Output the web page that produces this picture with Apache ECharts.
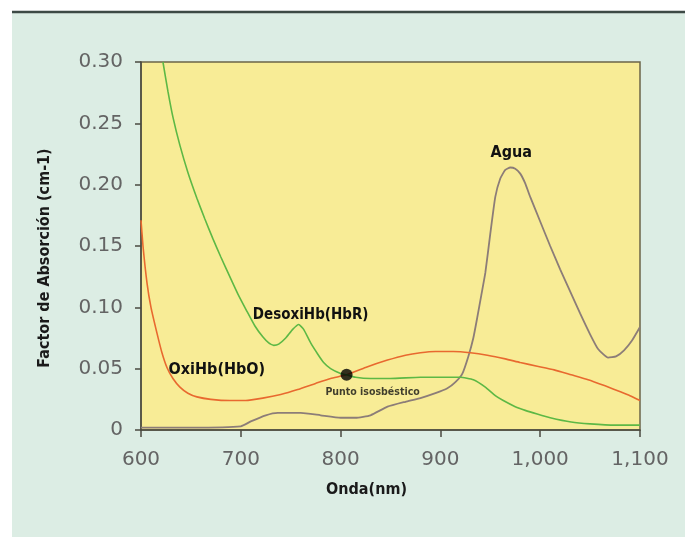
<!DOCTYPE html>
<html>
<head>
<meta charset="utf-8">
<script src="https://cdn.jsdelivr.net/npm/echarts@6/dist/echarts.min.js"></script>
<style>html,body{margin:0;padding:0;background:#fff;}#c{width:685px;height:537px;}</style>
</head>
<body>
<div id="c"></div>
<script>
// Wavelength (nm), absorption coefficient (cm-1)
const oxiHb = [[600,0.171],[602,0.15],[606,0.12],[610,0.1],[616,0.079],[621,0.063],[626,0.051],[632,0.042],[639,0.035],[647,0.030],[656,0.027],[670,0.025],[689,0.024],[705,0.024],[722,0.026],[740,0.029],[757,0.033],[775,0.038],[790,0.042],[806,0.045],[825,0.051],[847,0.057],[865,0.061],[880,0.063],[895,0.064],[913,0.064],[930,0.063],[947,0.061],[965,0.058],[980,0.055],[997,0.052],[1014,0.049],[1031,0.045],[1048,0.041],[1065,0.036],[1081,0.031],[1090,0.028],[1100,0.024]];
const desoxiHb = [[622,0.30],[627,0.276],[632,0.255],[639,0.232],[647,0.210],[656,0.189],[664,0.172],[672,0.156],[680,0.141],[689,0.125],[697,0.111],[706,0.097],[714,0.085],[722,0.076],[728,0.071],[733,0.069],[738,0.07],[745,0.075],[752,0.082],[758,0.086],[763,0.082],[770,0.071],[777,0.062],[783,0.055],[790,0.050],[800,0.046],[806,0.045],[815,0.043],[830,0.042],[850,0.042],[880,0.043],[900,0.043],[920,0.043],[933,0.041],[945,0.035],[955,0.028],[963,0.024],[975,0.019],[985,0.016],[997,0.013],[1010,0.010],[1031,0.0065],[1050,0.005],[1075,0.004],[1100,0.004]];
const agua = [[600,0.002],[650,0.002],[700,0.003],[710,0.007],[725,0.012],[737,0.014],[760,0.014],[780,0.012],[800,0.010],[815,0.010],[830,0.012],[847,0.019],[865,0.023],[880,0.026],[895,0.030],[907,0.034],[915,0.039],[922,0.046],[928,0.060],[933,0.075],[937,0.092],[941,0.110],[945,0.128],[950,0.160],[955,0.190],[960,0.205],[965,0.212],[970,0.214],[975,0.213],[980,0.209],[985,0.201],[990,0.190],[1000,0.170],[1010,0.150],[1020,0.131],[1030,0.113],[1040,0.095],[1050,0.078],[1058,0.066],[1068,0.059],[1076,0.060],[1084,0.065],[1092,0.073],[1100,0.084]];
const isosbestic = [[806,0.045]];
const xTicks = {min:600, max:1100, interval:100};
const yTicks = {min:0, max:0.30, interval:0.05};
const seriesNames = ['OxiHb(HbO)','DesoxiHb(HbR)','Agua'];
const labelAnchors = [[676,0.049],[770,0.094],[971,0.226]];
const isoLabel = 'Punto isosbéstico';

const chart = echarts.init(document.getElementById('c'), null, {renderer:'canvas'});
const lblFont = 'DejaVu Sans Condensed';
function annot(i, size){
  return {
    symbol:'circle', symbolSize:0, silent:true,
    label:{show:true, position:'inside', formatter:seriesNames[i], color:'#111', fontFamily:lblFont, fontWeight:'bold', fontSize:size},
    data:[{coord:labelAnchors[i]}]
  };
}
chart.setOption({
  animation:false,
  backgroundColor:'#dcede4',
  graphic:[
    {type:'rect', shape:{x:0,y:0,width:12,height:537}, style:{fill:'#ffffff'}, z:100},
    {type:'rect', shape:{x:0,y:0,width:685,height:11}, style:{fill:'#ffffff'}, z:100},
    {type:'line', shape:{x1:12,y1:12,x2:685,y2:12}, style:{stroke:'#3d4a45', lineWidth:2.5}, z:101}
  ],
  grid:{left:141, right:45, top:62, bottom:107, show:true, backgroundColor:'#f8ec96', borderColor:'#6b6448', borderWidth:1.5},
  xAxis:{
    type:'value', min:xTicks.min, max:xTicks.max, interval:xTicks.interval,
    name:'Onda(nm)', nameLocation:'middle', nameGap:52,
    nameTextStyle:{fontFamily:lblFont, fontWeight:'bold', fontSize:16, color:'#1a1a1a', padding:[0,48,0,0]},
    axisLine:{show:true, lineStyle:{color:'#4a4a40', width:1.5}},
    axisTick:{show:true, inside:false, length:7, lineStyle:{color:'#4a4a40', width:1.5}},
    axisLabel:{fontFamily:'DejaVu Sans', fontSize:20, color:'#646464', margin:20,
      formatter:v=>v.toLocaleString('en-US')},
    splitLine:{show:false}
  },
  yAxis:{
    type:'value', min:yTicks.min, max:yTicks.max, interval:yTicks.interval,
    name:'Factor de Absorción (cm-1)', nameLocation:'middle', nameGap:88,
    nameTextStyle:{fontFamily:lblFont, fontWeight:'bold', fontSize:16, color:'#1a1a1a', padding:[0,24,0,0]},
    axisLine:{show:true, lineStyle:{color:'#4a4a40', width:1.5}},
    axisTick:{show:true, inside:false, length:6, lineStyle:{color:'#4a4a40', width:1.5}},
    axisLabel:{fontFamily:'DejaVu Sans', fontSize:20, color:'#646464', margin:18,
      formatter:v=>v===0?'0':v.toFixed(2)},
    splitLine:{show:false}
  },
  series:[
    {name:seriesNames[0], type:'line', data:oxiHb, smooth:0.15, showSymbol:false, clip:true,
      lineStyle:{color:'#e8692f', width:1.6}, markPoint:annot(0,16), z:3},
    {name:seriesNames[1], type:'line', data:desoxiHb, smooth:0.15, showSymbol:false, clip:true,
      lineStyle:{color:'#5db845', width:1.6}, markPoint:annot(1,15), z:4},
    {name:seriesNames[2], type:'line', data:agua, smooth:0.15, showSymbol:false, clip:true,
      lineStyle:{color:'#8c7d78', width:1.8}, markPoint:annot(2,16), z:2},
    {name:'iso', type:'scatter', data:isosbestic, symbolSize:12, itemStyle:{color:'#000'}, z:10,
      label:{show:true, position:'bottom', distance:6, formatter:isoLabel, color:'#111', fontFamily:lblFont, fontWeight:'bold', fontSize:10.5, offset:[26,0]}}
  ]
});
</script>
</body>
</html>
